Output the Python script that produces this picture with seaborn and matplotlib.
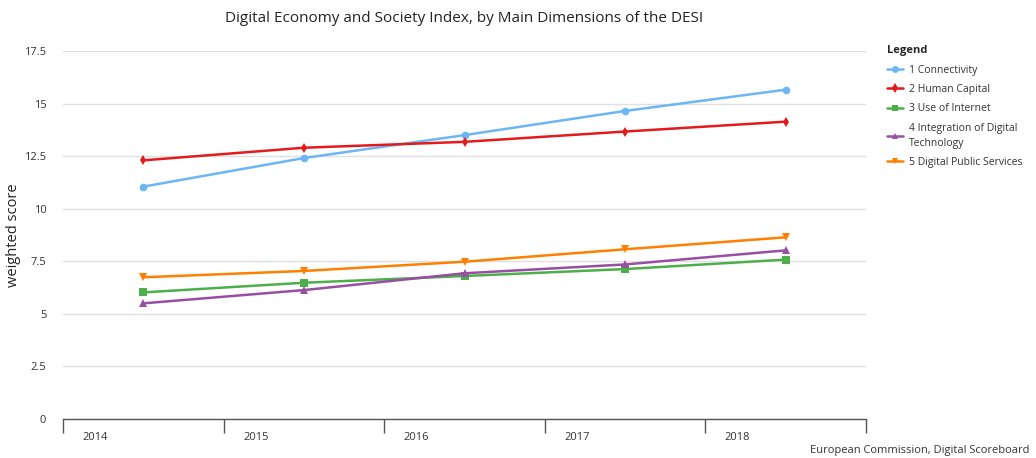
import matplotlib
matplotlib.use("Agg")
import matplotlib.pyplot as plt
import seaborn as sns
import pandas as pd

years = ["2014", "2015", "2016", "2017", "2018"]
series_names = ["1 Connectivity", "2 Human Capital", "3 Use of Internet",
                "4 Integration of Digital\nTechnology", "5 Digital Public Services"]
connectivity = [11.05, 12.41, 13.50, 14.65, 15.66]
human_capital = [12.30, 12.90, 13.18, 13.67, 14.14]
use_internet = [6.02, 6.48, 6.80, 7.13, 7.58]
integration = [5.50, 6.13, 6.93, 7.35, 8.02]
public_services = [6.74, 7.04, 7.48, 8.07, 8.64]
values = [connectivity, human_capital, use_internet, integration, public_services]

colors = ["#6cb6f5", "#e41a1c", "#4daf4a", "#984ea3", "#ff7f00"]
markers = ["o", "d", "s", "^", "v"]

rows = []
for name, vals in zip(series_names, values):
    for i, v in enumerate(vals):
        rows.append({"x": i, "value": v, "series": name})
df = pd.DataFrame(rows)

sns.set_style("white")
plt.rcParams["font.family"] = ["Open Sans", "DejaVu Sans"]

fig = plt.figure(figsize=(10.36, 4.58), dpi=100)
ax = fig.add_axes([63 / 1036, 1 - 419 / 458, (866 - 63) / 1036, (419 - 51) / 458])

sns.lineplot(data=df, x="x", y="value", hue="series", style="series",
             palette=dict(zip(series_names, colors)),
             markers=dict(zip(series_names, markers)),
             dashes=False, linewidth=1.8, markersize=5.5, markeredgewidth=0,
             ax=ax, legend=True)

ax.set_xlim(-0.5, 4.5)
ax.set_ylim(0, 17.5)
yt = [0, 2.5, 5, 7.5, 10, 12.5, 15, 17.5]
ax.set_yticks(yt)
ax.set_yticklabels(["0", "2.5", "5", "7.5", "10", "12.5", "15", "17.5"],
                   fontsize=8, color="#333333")
ax.yaxis.grid(True, color="#e0e0e0", linewidth=1)
ax.tick_params(axis="y", length=0, pad=12)

# category boundaries as ticks, labels offset within band
ax.set_xticks([-0.5, 0.5, 1.5, 2.5, 3.5, 4.5])
ax.set_xticklabels([])
ax.tick_params(axis="x", bottom=True, direction="out", length=10, width=1,
               color="#555555")
for i, y in enumerate(years):
    ax.text(i - 0.3, -0.035, y, transform=ax.get_xaxis_transform(),
            ha="center", va="top", fontsize=8, color="#333333")

for s in ["top", "right", "left"]:
    ax.spines[s].set_visible(False)
ax.spines["bottom"].set_color("#555555")
ax.spines["bottom"].set_linewidth(1)

ax.set_xlabel("")
ax.set_ylabel("weighted score", fontsize=10.5, color="#222222")
ax.yaxis.set_label_coords((21 - 63) / 803, 0.5)

leg = ax.legend(title="Legend", loc="upper left",
                bbox_to_anchor=(878 / 1036, 1 - 36 / 458),
                bbox_transform=fig.transFigure, frameon=False,
                fontsize=7.5, title_fontsize=8, handlelength=1.5,
                handletextpad=0.6, labelspacing=0.8, alignment="left",
                markerscale=0.9)
leg.get_title().set_fontweight("bold")
for t in leg.get_texts():
    t.set_color("#333333")
    t.set_linespacing(1.5)

fig.text((63 + 866) / 2 / 1036, 1 - 18 / 458,
         "Digital Economy and Society Index, by Main Dimensions of the DESI",
         ha="center", va="center", fontsize=11, color="#222222")
fig.text(1030 / 1036, 1 - 451 / 458, "European Commission, Digital Scoreboard",
         ha="right", va="center", fontsize=8, color="#333333")

fig.savefig("out.png", dpi=100)
